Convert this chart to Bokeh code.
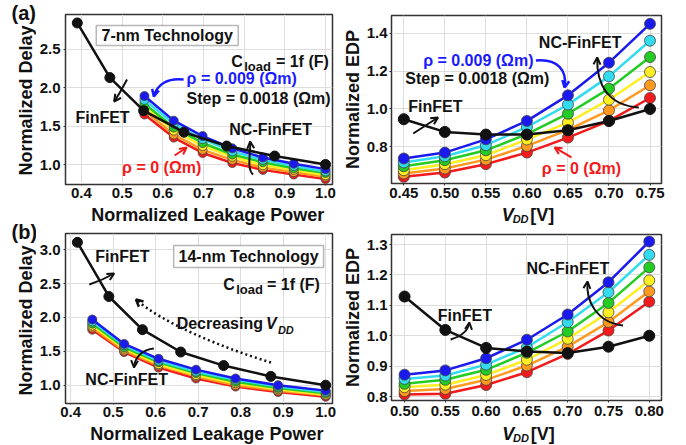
import math
from bokeh.plotting import figure
from bokeh.layouts import row, column
from bokeh.models import Range1d, FixedTicker, Label, BoxAnnotation, Arrow, OpenHead
from bokeh.embed import file_html
from bokeh.resources import INLINE

# ---------------- data ----------------
series_names = ["rho=0", "rho=0.0018", "rho=0.0036", "rho=0.0054", "rho=0.0072", "rho=0.009"]
series_colors = ["#f21a1a", "#ff9a1f", "#ffee22", "#22cc22", "#33dbee", "#1a1aee"]

# (a) 7-nm delay vs leakage
fin7_leak = [0.39, 0.47, 0.553, 0.652, 0.757, 0.875, 1.0]
fin7_delay = [2.84, 2.13, 1.70, 1.42, 1.24, 1.11, 1.0]
nc7_leak = [0.555, 0.627, 0.698, 0.771, 0.846, 0.922, 1.0]
nc7_delay_red = [1.65, 1.35, 1.15, 1.02, 0.93, 0.87, 0.81]
nc7_delay_orange = [1.70, 1.39, 1.19, 1.06, 0.96, 0.90, 0.84]
nc7_delay_yellow = [1.75, 1.44, 1.24, 1.10, 0.99, 0.93, 0.86]
nc7_delay_green = [1.79, 1.48, 1.28, 1.13, 1.03, 0.95, 0.89]
nc7_delay_cyan = [1.84, 1.53, 1.33, 1.17, 1.06, 0.98, 0.91]
nc7_delay_blue = [1.89, 1.57, 1.37, 1.21, 1.09, 1.01, 0.94]

# (a) 7-nm EDP vs VDD
vdd7 = [0.45, 0.50, 0.55, 0.60, 0.65, 0.70, 0.75]
fin7_edp = [0.946, 0.879, 0.865, 0.865, 0.888, 0.937, 1.0]
nc7_edp_red = [0.642, 0.665, 0.709, 0.770, 0.849, 0.937, 1.058]
nc7_edp_orange = [0.660, 0.686, 0.733, 0.805, 0.890, 0.993, 1.125]
nc7_edp_yellow = [0.677, 0.709, 0.756, 0.839, 0.928, 1.049, 1.195]
nc7_edp_green = [0.698, 0.730, 0.782, 0.867, 0.975, 1.107, 1.274]
nc7_edp_cyan = [0.718, 0.751, 0.809, 0.905, 1.023, 1.172, 1.360]
nc7_edp_blue = [0.739, 0.770, 0.840, 0.937, 1.072, 1.244, 1.449]

# (b) 14-nm delay vs leakage
fin14_leak = [0.416, 0.490, 0.569, 0.659, 0.760, 0.871, 1.0]
fin14_delay = [3.11, 2.31, 1.82, 1.49, 1.29, 1.13, 1.0]
nc14_leak = [0.451, 0.526, 0.607, 0.695, 0.788, 0.888, 1.0]
nc14_delay_red = [1.82, 1.49, 1.26, 1.10, 0.98, 0.90, 0.83]
nc14_delay_orange = [1.85, 1.51, 1.29, 1.13, 1.00, 0.92, 0.85]
nc14_delay_yellow = [1.88, 1.54, 1.31, 1.15, 1.03, 0.94, 0.86]
nc14_delay_green = [1.91, 1.56, 1.34, 1.18, 1.05, 0.96, 0.88]
nc14_delay_cyan = [1.94, 1.59, 1.36, 1.20, 1.08, 0.98, 0.90]
nc14_delay_blue = [1.97, 1.61, 1.39, 1.23, 1.10, 1.00, 0.92]

# (b) 14-nm EDP vs VDD
vdd14 = [0.50, 0.55, 0.60, 0.65, 0.70, 0.75, 0.80]
fin14_edp = [1.129, 1.019, 0.960, 0.948, 0.943, 0.964, 1.0]
nc14_edp_red = [0.807, 0.809, 0.838, 0.880, 0.940, 1.017, 1.112]
nc14_edp_orange = [0.818, 0.825, 0.855, 0.902, 0.964, 1.045, 1.146]
nc14_edp_yellow = [0.831, 0.839, 0.871, 0.921, 0.990, 1.077, 1.182]
nc14_edp_green = [0.842, 0.855, 0.888, 0.944, 1.014, 1.108, 1.225]
nc14_edp_cyan = [0.858, 0.869, 0.905, 0.962, 1.045, 1.143, 1.266]
nc14_edp_blue = [0.872, 0.886, 0.926, 0.987, 1.070, 1.176, 1.310]

# ticks
leak_ticks = [0.4, 0.5, 0.6, 0.7, 0.8, 0.9, 1.0]
leak_labels = ["0.4", "0.5", "0.6", "0.7", "0.8", "0.9", "1.0"]
delay7_ticks = [1.0, 1.5, 2.0, 2.5]
delay7_labels = ["1.0", "1.5", "2.0", "2.5"]
delay14_ticks = [1.0, 1.5, 2.0, 2.5, 3.0]
delay14_labels = ["1.0", "1.5", "2.0", "2.5", "3.0"]
vdd7_labels = ["0.45", "0.50", "0.55", "0.60", "0.65", "0.70", "0.75"]
vdd14_labels = ["0.50", "0.55", "0.60", "0.65", "0.70", "0.75", "0.80"]
edp7_ticks = [0.8, 1.0, 1.2, 1.4]
edp7_labels = ["0.8", "1.0", "1.2", "1.4"]
edp14_ticks = [0.8, 0.9, 1.0, 1.1, 1.2, 1.3]
edp14_labels = ["0.8", "0.9", "1.0", "1.1", "1.2", "1.3"]

FONT = "Liberation Sans"
BLUE_T = "#1a1aff"
RED_T = "#f21a1a"
HALF_PI = math.pi / 2
MID = 0.3465  # distance (in em) from the alphabetic baseline up to the middle of the em box

# frame geometry (page pixels) of each panel and its ranges
geoA1 = dict(x0=63, x1=332, y0=14, y1=184, xr=(0.361, 1.0171), yr=(0.74, 2.95))
geoA2 = dict(x0=388, x1=661, y0=15, y1=183, xr=(0.435, 0.764), yr=(0.607, 1.493))
geoB1 = dict(x0=63, x1=332, y0=233, y1=403, xr=(0.388, 1.016), yr=(0.73, 3.24))
geoB2 = dict(x0=388, x1=662, y0=234, y1=400, xr=(0.484, 0.815), yr=(0.787, 1.333))


def to_data(g, X, Y):
    x = g["xr"][0] + (X - g["x0"]) / (g["x1"] - g["x0"]) * (g["xr"][1] - g["xr"][0])
    y = g["yr"][1] - (Y - g["y0"]) / (g["y1"] - g["y0"]) * (g["yr"][1] - g["yr"][0])
    return x, y


def make_fig(g, width, height, bl, bt, xticks, xlabels, yticks, ylabels,
             xtick_out=2, xstand=2, ystand=3):
    fw = g["x1"] - g["x0"]
    fh = g["y1"] - g["y0"]
    p = figure(width=width, height=height, output_backend="svg", toolbar_location=None,
               x_range=Range1d(*g["xr"]), y_range=Range1d(*g["yr"]), title=None,
               min_border_left=bl, min_border_right=width - bl - fw,
               min_border_top=bt, min_border_bottom=height - bt - fh)
    p.outline_line_color = "#333333"
    p.outline_line_width = 1.5
    p.background_fill_color = "white"
    p.border_fill_color = "white"
    p.grid.grid_line_color = "#dddddd"
    p.grid.grid_line_width = 1
    p.xaxis.ticker = FixedTicker(ticks=xticks)
    p.yaxis.ticker = FixedTicker(ticks=yticks)
    p.xaxis.major_label_overrides = dict(zip(xticks, xlabels))
    p.yaxis.major_label_overrides = dict(zip(yticks, ylabels))
    for ax in (p.xaxis, p.yaxis):
        ax.axis_line_color = "#333333"
        ax.major_tick_line_color = "#333333"
        ax.major_tick_in = 0
        ax.minor_tick_line_color = None
        ax.major_label_text_font = FONT
        ax.major_label_text_font_style = "bold"
        ax.major_label_text_font_size = "15px"
        ax.major_label_text_color = "#111111"
    p.xaxis.major_tick_out = xtick_out
    p.xaxis.major_label_standoff = xstand
    p.yaxis.major_tick_out = 2
    p.yaxis.major_label_standoff = ystand
    return p


def make_strip(x0, x1, y0, y1):
    """Blank text canvas covering page pixels x0..x1, y0..y1 (x = page px, y = -page px)."""
    p = figure(width=x1 - x0, height=y1 - y0, output_backend="svg", toolbar_location=None,
               x_range=Range1d(x0, x1), y_range=Range1d(-y1, -y0), title=None,
               x_axis_type=None, y_axis_type=None, min_border=0,
               min_border_left=0, min_border_right=0, min_border_top=0, min_border_bottom=0)
    p.outline_line_color = None
    p.background_fill_color = "white"
    p.border_fill_color = "white"
    return p


def lab(p, g, X, Y, text, size=16, color="#111111", align="left", style="bold", rotated=False):
    """X, Y: page pixel position of the text's alphabetic baseline (rotated: X is the baseline)."""
    if rotated:
        X = X - MID * size
        angle = HALF_PI
    else:
        Y = Y - MID * size
        angle = 0.0
    if g is None:
        x, y = X, -Y
    else:
        x, y = to_data(g, X, Y)
    p.add_layout(Label(x=x, y=y, text=text, text_font=FONT, text_font_size=f"{size}px",
                       text_font_style=style, text_color=color, text_align=align,
                       text_baseline="middle", angle=angle))


def curve_arrow(p, g, P0, C0, C1, P1, color="#111111", width=2.0, dash="solid", head=7):
    x0, y0 = to_data(g, *P0)
    cx0, cy0 = to_data(g, *C0)
    cx1, cy1 = to_data(g, *C1)
    x1, y1 = to_data(g, *P1)
    p.bezier(x0=[x0], y0=[y0], x1=[x1], y1=[y1], cx0=[cx0], cy0=[cy0], cx1=[cx1], cy1=[cy1],
             line_color=color, line_width=width, line_dash=dash)
    dx, dy = P1[0] - C1[0], P1[1] - C1[1]
    n = math.hypot(dx, dy) or 1.0
    S = (P1[0] - dx / n * 3, P1[1] - dy / n * 3)
    xs, ys = to_data(g, *S)
    p.add_layout(Arrow(end=OpenHead(size=head, line_color=color, line_width=width),
                       x_start=xs, y_start=ys, x_end=x1, y_end=y1, line_alpha=0))


def draw_series(p, xs_nc, nc_list, xs_fin, fin, nc_size, fin_size):
    for ys, c in zip(nc_list, series_colors):
        p.line(xs_nc, ys, line_color=c, line_width=2.5)
        p.scatter(xs_nc, ys, size=nc_size, fill_color=c, line_color="#444444", line_width=0.8)
    p.line(xs_fin, fin, line_color="#111111", line_width=2.5)
    p.scatter(xs_fin, fin, size=fin_size, fill_color="#111111", line_color="#111111")


def vdd_label(p, xc, base):
    lab(p, None, xc - 30, base, "V", size=18, style="bold italic")
    lab(p, None, xc - 17, base + 1.8, "DD", size=11, style="bold italic")
    lab(p, None, xc + 4, base, "[V]", size=18)


# ---------------- panel A1 ----------------
pA1 = make_fig(geoA1, 306, 204, 27, 14, leak_ticks, leak_labels, delay7_ticks, delay7_labels,
               xtick_out=1, xstand=2)
draw_series(pA1, nc7_leak,
            [nc7_delay_red, nc7_delay_orange, nc7_delay_yellow, nc7_delay_green, nc7_delay_cyan, nc7_delay_blue],
            fin7_leak, fin7_delay, 9, 10)
bl, bt = to_data(geoA1, 94, 45)
br_, tp = to_data(geoA1, 237, 25)
pA1.add_layout(BoxAnnotation(left=bl, right=br_, bottom=bt, top=tp, fill_color="white", fill_alpha=1,
                             line_color="#111111", line_width=1.5))
lab(pA1, geoA1, 165.5, 40.5, "7-nm Technology", align="center")
lab(pA1, geoA1, 230, 67, "C", size=16)
lab(pA1, geoA1, 243, 71, "load", size=13)
lab(pA1, geoA1, 275, 67, "= 1f (F)", size=16)
lab(pA1, geoA1, 185, 84, "ρ = 0.009 (Ωm)", color=BLUE_T)
lab(pA1, geoA1, 185, 104, "Step = 0.0018 (Ωm)")
lab(pA1, geoA1, 73, 123, "FinFET")
lab(pA1, geoA1, 228, 135, "NC-FinFET")
lab(pA1, geoA1, 120, 173, "ρ = 0 (Ωm)", color=RED_T)
curve_arrow(pA1, geoA1, (182, 79), (166, 77), (155, 84), (152, 96), color=BLUE_T, width=2.5)
curve_arrow(pA1, geoA1, (125, 79), (121, 86), (117, 94), (112, 101))
curve_arrow(pA1, geoA1, (173, 155), (177, 152), (181, 150), (185, 147), color=RED_T)
curve_arrow(pA1, geoA1, (252, 174), (245, 168), (250, 152), (249, 141))

# ---------------- panel A2 ----------------
pA2 = make_fig(geoA2, 322, 204, 25, 15, vdd7, vdd7_labels, edp7_ticks, edp7_labels,
               xtick_out=2, xstand=2, ystand=2)
draw_series(pA2, vdd7,
            [nc7_edp_red, nc7_edp_orange, nc7_edp_yellow, nc7_edp_green, nc7_edp_cyan, nc7_edp_blue],
            vdd7, fin7_edp, 11, 11)
lab(pA2, geoA2, 420, 66, "ρ = 0.009 (Ωm)", color=BLUE_T)
lab(pA2, geoA2, 402, 84, "Step = 0.0018 (Ωm)")
lab(pA2, geoA2, 537, 48, "NC-FinFET")
lab(pA2, geoA2, 405, 112, "FinFET")
lab(pA2, geoA2, 540, 174, "ρ = 0 (Ωm)", color=RED_T)
curve_arrow(pA2, geoA2, (534, 60), (556, 58), (566, 70), (563, 87), color=BLUE_T, width=2.5)
curve_arrow(pA2, geoA2, (638, 107), (608, 105), (595, 85), (596, 57))
curve_arrow(pA2, geoA2, (410, 133), (418, 128), (427, 122), (435, 117))
curve_arrow(pA2, geoA2, (570, 157), (564, 153), (558, 150), (553, 147), color=RED_T)

# ---------------- panel B1 ----------------
pB1 = make_fig(geoB1, 306, 198, 27, 8, leak_ticks, leak_labels, delay14_ticks, delay14_labels,
               xtick_out=1, xstand=2)
draw_series(pB1, nc14_leak,
            [nc14_delay_red, nc14_delay_orange, nc14_delay_yellow, nc14_delay_green, nc14_delay_cyan, nc14_delay_blue],
            fin14_leak, fin14_delay, 9, 10)
bl, bt = to_data(geoB1, 172, 267)
br_, tp = to_data(geoB1, 323, 245)
pB1.add_layout(BoxAnnotation(left=bl, right=br_, bottom=bt, top=tp, fill_color="white", fill_alpha=1,
                             line_color="#111111", line_width=1.5))
lab(pB1, geoB1, 247.5, 261.5, "14-nm Technology", align="center")
lab(pB1, geoB1, 222, 290, "C", size=16)
lab(pB1, geoB1, 235, 294, "load", size=13)
lab(pB1, geoB1, 266, 290, "= 1f (F)", size=16)
lab(pB1, geoB1, 93, 262, "FinFET")
lab(pB1, geoB1, 175, 329, "Decreasing", size=16)
lab(pB1, geoB1, 265, 329, "V", size=16, style="bold italic")
lab(pB1, geoB1, 277, 333, "DD", size=11, style="bold italic")
lab(pB1, geoB1, 83, 385, "NC-FinFET")
curve_arrow(pB1, geoB1, (87, 284), (96, 281), (105, 277), (112, 273))
curve_arrow(pB1, geoB1, (270, 362), (220, 347), (160, 322), (134, 299), width=2.5, dash="2 3")
curve_arrow(pB1, geoB1, (152, 348), (141, 349), (133, 356), (132, 367))

# ---------------- panel B2 ----------------
pB2 = make_fig(geoB2, 322, 198, 25, 9, vdd14, vdd14_labels, edp14_ticks, edp14_labels,
               xtick_out=2, xstand=3, ystand=2)
draw_series(pB2, vdd14,
            [nc14_edp_red, nc14_edp_orange, nc14_edp_yellow, nc14_edp_green, nc14_edp_cyan, nc14_edp_blue],
            vdd14, fin14_edp, 11, 11)
lab(pB2, geoB2, 525, 274, "NC-FinFET")
lab(pB2, geoB2, 435, 321, "FinFET")
curve_arrow(pB2, geoB2, (623, 325), (596, 322), (585, 300), (587, 281))
curve_arrow(pB2, geoB2, (448, 339), (458, 336), (466, 330), (467, 322))

# ---------------- text strips (axis titles and panel tags) ----------------
S1 = make_strip(0, 36, 0, 444)
lab(S1, None, 11, 19.5, "(a)", size=20)
lab(S1, None, 32, 100, "Normalized Delay", size=18, align="center", rotated=True)
lab(S1, None, 11, 238, "(b)", size=20)
lab(S1, None, 32, 320, "Normalized Delay", size=18, align="center", rotated=True)

S2 = make_strip(342, 363, 0, 444)
lab(S2, None, 358.5, 99, "Normalized EDP", size=18, align="center", rotated=True)
lab(S2, None, 358.5, 317, "Normalized EDP", size=18, align="center", rotated=True)

LA1 = make_strip(36, 342, 204, 225)
lab(LA1, None, 199, 220.7, "Normalized Leakage Power", size=18, align="center")
LA2 = make_strip(363, 685, 204, 225)
vdd_label(LA2, 524.5, 220.7)

LB1 = make_strip(36, 342, 423, 444)
lab(LB1, None, 198, 439.7, "Normalized Leakage Power", size=18, align="center")
LB2 = make_strip(363, 685, 423, 444)
vdd_label(LB2, 525, 439.7)

layout = row(S1, column(pA1, LA1, pB1, LB1), S2, column(pA2, LA2, pB2, LB2))
open("out.html", "w").write(file_html(layout, INLINE))
